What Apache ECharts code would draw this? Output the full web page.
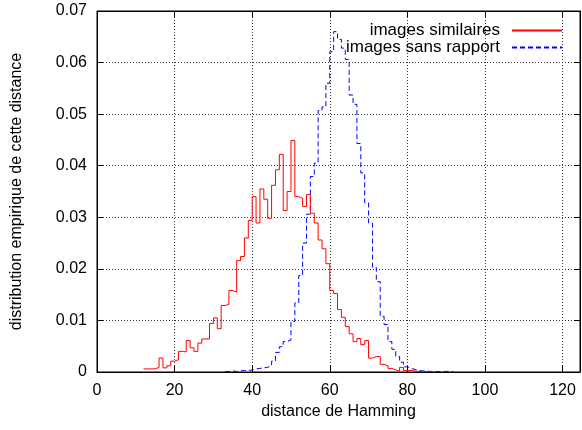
<!DOCTYPE html>
<html>
<head>
<meta charset="utf-8">
<script src="https://cdn.jsdelivr.net/npm/echarts@6/dist/echarts.min.js"></script>
<style>
  html, body { margin: 0; padding: 0; background: #fff; }
  #chart { width: 582px; height: 430px; }
</style>
</head>
<body>
<div id="chart"></div>
<script>
// histogram bins of width 1
const redName = 'images similaires'
const redFirstBin = 12
const redValues = [
  0.0006, 0.0006, 0.0006, 0.0009, 0.0027, 0.0008, 0.0012, 0.0021, 0.0024, 0.0040,
  0.0039, 0.0061, 0.0047, 0.0040, 0.0056, 0.0064, 0.0064, 0.0094, 0.0105, 0.0084,
  0.0129, 0.0131, 0.0158, 0.0155, 0.0216, 0.0224, 0.0260, 0.0294, 0.0340, 0.0289,
  0.0355, 0.0335, 0.0298, 0.0362, 0.0392, 0.0422, 0.0313, 0.0350, 0.0449, 0.0340,
  0.0337, 0.0321, 0.0344, 0.0308, 0.0289, 0.0256, 0.0239, 0.0210, 0.0158, 0.0152,
  0.0121, 0.0106, 0.0088, 0.0074, 0.0059, 0.0065, 0.0053, 0.0061, 0.0027, 0.0030,
  0.0030, 0.0015, 0.0012, 0.0007, 0.0004, 0.0002, 0.0009, 0.0003, 0.0003, 0.0002,
  0.0001, 0.0001, 0.0001, 0
]

const blueName = 'images sans rapport'
const blueFirstBin = 33
const blueValues = [
  0.0001, 0.0002, 0.0001, 0.0002, 0.0003, 0.0003, 0.0004, 0.0006, 0.0007, 0.0008,
  0.0009, 0.0012, 0.0021, 0.0038, 0.0049, 0.0059, 0.0062, 0.0098, 0.0134, 0.0187,
  0.0250, 0.0306, 0.0379, 0.0405, 0.0507, 0.0514, 0.0560, 0.0621, 0.0660, 0.0645,
  0.0628, 0.0606, 0.0537, 0.0519, 0.0443, 0.0386, 0.0328, 0.0289, 0.0203, 0.0175,
  0.0108, 0.0092, 0.0059, 0.0044, 0.0030, 0.0019, 0.0010, 0.0007, 0.0005, 0.0003,
  0.0002, 0.0002, 0.0001, 0.0001, 0.0001, 0.0001, 0.0001, 0.0002, 0
]

const xTicks = [0, 20, 40, 60, 80, 100, 120]
const yTicks = [0, 0.01, 0.02, 0.03, 0.04, 0.05, 0.06, 0.07]

const font = 'Liberation Sans, Arial, sans-serif'

// [left edge, value] pairs, last bin closed with an extra point
const toSteps = (first, values) => {
  const pts = values.map((v, i) => [first + i, v])
  pts.push([first + values.length, values[values.length - 1]])
  return pts
}

const gridLine = { show: true, lineStyle: { color: '#333', type: [1, 2], width: 1 } }
const tick = { show: true, inside: true, length: 6, lineStyle: { color: '#000' } }

const xBase = {
  type: 'value',
  min: 0,
  max: 124.5,
  interval: 20,
  axisLine: { show: true, onZero: false, lineStyle: { color: '#000' } },
  axisTick: tick
}
const yBase = {
  type: 'value',
  min: 0,
  max: 0.07,
  interval: 0.01,
  axisLine: { show: true, onZero: false, lineStyle: { color: '#000' } },
  axisTick: tick
}

const chart = echarts.init(document.getElementById('chart'), null, { renderer: 'canvas' })

chart.setOption({
  animation: false,
  textStyle: { fontFamily: font },
  grid: { left: 97, right: 2, top: 11, bottom: 58, show: true, borderColor: '#000', borderWidth: 1 },
  legend: {
    orient: 'vertical',
    align: 'right',
    right: 14,
    top: 17,
    itemGap: 0,
    itemWidth: 50,
    itemHeight: 14,
    itemStyle: { opacity: 0 },
    textStyle: {
      fontSize: 17, lineHeight: 16, color: '#000', fontFamily: font,
      width: 170, align: 'right', padding: [0, 7, 0, 0]
    },
    data: [redName, blueName]
  },
  xAxis: [
    {
      ...xBase,
      position: 'bottom',
      name: 'distance de Hamming',
      nameLocation: 'middle',
      nameGap: 29,
      nameTextStyle: { fontSize: 16, color: '#000', fontFamily: font },
      splitLine: gridLine,
      axisLabel: {
        fontSize: 16, color: '#000', margin: 11, showMaxLabel: false,
        formatter: v => (xTicks.includes(v) ? String(v) : '')
      }
    },
    { ...xBase, position: 'top', splitLine: { show: false }, axisLabel: { show: false } }
  ],
  yAxis: [
    {
      ...yBase,
      position: 'left',
      name: 'distribution empirique de cette distance',
      nameLocation: 'middle',
      nameGap: 72,
      nameTextStyle: { fontSize: 16, color: '#000', fontFamily: font },
      splitLine: gridLine,
      axisLabel: {
        fontSize: 16, color: '#000', margin: 10,
        formatter: v => {
          const t = yTicks.find(k => Math.abs(k - v) < 1e-9)
          return t === undefined ? '' : (t === 0 ? '0' : t.toFixed(2))
        }
      }
    },
    { ...yBase, position: 'right', splitLine: { show: false }, axisLabel: { show: false } }
  ],
  series: [
    {
      name: redName,
      type: 'line',
      step: 'end',
      symbol: 'none',
      data: toSteps(redFirstBin, redValues),
      lineStyle: { color: '#ff0000', width: 1 },
      itemStyle: { color: '#ff0000' },
      z: 3
    },
    {
      name: blueName,
      type: 'line',
      step: 'end',
      symbol: 'none',
      data: toSteps(blueFirstBin, blueValues),
      lineStyle: { color: '#0000ff', width: 1, type: [5, 3] },
      itemStyle: { color: '#0000ff' },
      z: 2
    }
  ]
})
</script>
</body>
</html>
